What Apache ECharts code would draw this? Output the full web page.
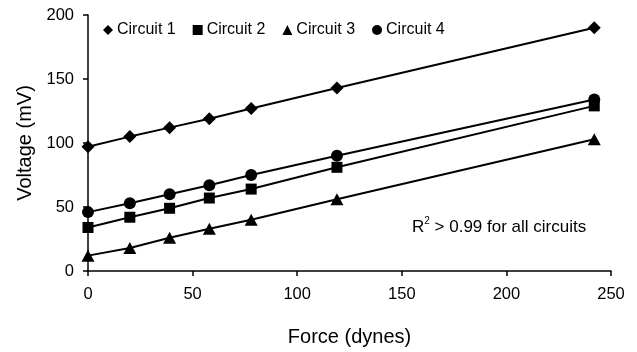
<!DOCTYPE html>
<html>
<head>
<meta charset="utf-8">
<script src="https://cdn.jsdelivr.net/npm/echarts@6/dist/echarts.min.js"></script>
<style>
html,body{margin:0;padding:0;background:#fff;}
#chart{width:637px;height:352px;}
</style>
</head>
<body>
<div id="chart"></div>
<script>
var force = [0, 20, 39, 58, 78, 119, 242];
var circuit1 = [97, 105, 112, 119, 127, 143, 190];
var circuit2 = [34, 42, 49, 57, 64, 81, 129];
var circuit3 = [12, 18, 26, 33, 40, 56, 103];
var circuit4 = [46, 53, 60, 67, 75, 90, 134];
var seriesNames = ['Circuit 1', 'Circuit 2', 'Circuit 3', 'Circuit 4'];
var xTicks = [0, 50, 100, 150, 200, 250];
var yTicks = [0, 50, 100, 150, 200];

var FONT = "'Liberation Sans', Arial, sans-serif";
var symbols = ['diamond', 'rect', 'triangle', 'circle'];
var symbolSizes = [[13, 13], [11, 11], [13, 12], [12, 12]];
var allData = [circuit1, circuit2, circuit3, circuit4];

function pairs(ys) { return force.map(function (x, i) { return [x, ys[i]]; }); }

var series = allData.map(function (ys, k) {
  return {
    name: seriesNames[k],
    type: 'line',
    data: pairs(ys),
    symbol: symbols[k],
    symbolSize: symbolSizes[k],
    showAllSymbol: true,
    lineStyle: { color: '#000', width: 2 },
    itemStyle: { color: '#000', borderWidth: 0 },
    emphasis: { disabled: true },
    z: 3
  };
});

var chart = echarts.init(document.getElementById('chart'), null, { renderer: 'canvas' });
chart.setOption({
  animation: false,
  backgroundColor: '#fff',
  textStyle: { fontFamily: FONT },
  grid: { left: 88, right: 26, top: 15, bottom: 80, containLabel: false },
  legend: {
    left: 98, top: 17,
    itemWidth: 10, itemHeight: 10, itemGap: 17,
    textStyle: { fontFamily: FONT, fontSize: 16, color: '#000', padding: [0, 0, 0, -1] },
    data: seriesNames.map(function (n, k) { return { name: n, icon: symbols[k], itemStyle: { color: '#000' } }; }),
    selectedMode: false
  },
  title: {
    left: 407, top: 211,
    text: '{a|R}{s|2}{a| > 0.99 for all circuits}',
    textStyle: {
      fontWeight: 'normal',
      rich: {
        a: { fontFamily: FONT, fontSize: 17, fontWeight: 'normal', color: '#000', verticalAlign: 'bottom', lineHeight: 20 },
        s: { fontFamily: FONT, fontSize: 10, fontWeight: 'normal', color: '#000', verticalAlign: 'top', lineHeight: 20, padding: [0, 0, 8, 0] }
      }
    }
  },
  xAxis: {
    type: 'value', min: xTicks[0], max: xTicks[xTicks.length - 1], interval: 50,
    name: 'Force (dynes)', nameLocation: 'middle', nameGap: 56,
    nameTextStyle: { fontFamily: FONT, fontSize: 20, color: '#000' },
    axisLine: { show: true, lineStyle: { color: '#000', width: 1.5 } },
    axisTick: { show: true, inside: false, length: 5, lineStyle: { color: '#000', width: 1.5 } },
    axisLabel: { fontFamily: FONT, fontSize: 16.5, color: '#000', margin: 15 },
    splitLine: { show: false }
  },
  yAxis: {
    type: 'value', min: yTicks[0], max: yTicks[yTicks.length - 1], interval: 50,
    name: 'Voltage (mV)', nameLocation: 'middle', nameGap: 53, nameRotate: 90,
    nameTextStyle: { fontFamily: FONT, fontSize: 20, color: '#000' },
    axisLine: { show: true, lineStyle: { color: '#000', width: 1.5 } },
    axisTick: { show: true, inside: false, length: 5, lineStyle: { color: '#000', width: 1.5 } },
    axisLabel: { fontFamily: FONT, fontSize: 16.5, color: '#000', margin: 14 },
    splitLine: { show: false }
  },
  series: series
});
</script>
</body>
</html>
